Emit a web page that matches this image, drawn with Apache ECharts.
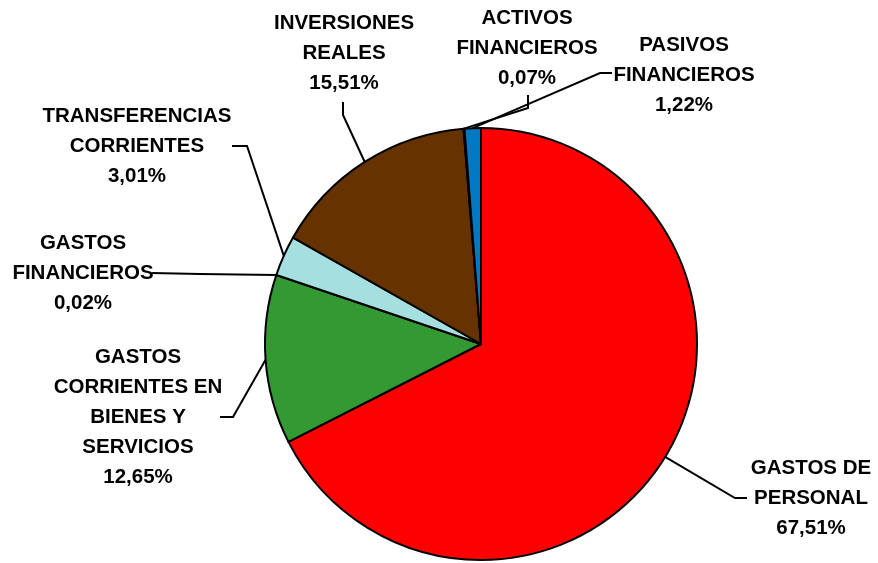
<!DOCTYPE html>
<html lang="es">
<head>
    <meta charset="UTF-8"/>
    <title>gastos</title>
    <script src="https://cdn.jsdelivr.net/npm/echarts@6/dist/echarts.min.js"></script>
</head>
<body style="margin:0;background:#fff">
<div id="main" style="width:878px;height:563px"></div>

<script type="text/javascript">
    // datos (porcentajes)
    var categorias = [
        'GASTOS DE\nPERSONAL',
        'GASTOS\nCORRIENTES EN\nBIENES Y\nSERVICIOS',
        'GASTOS\nFINANCIEROS',
        'TRANSFERENCIAS\nCORRIENTES',
        'INVERSIONES\nREALES',
        'ACTIVOS\nFINANCIEROS',
        'PASIVOS\nFINANCIEROS'
    ];
    var valores = [67.51, 12.65, 0.02, 3.01, 15.51, 0.07, 1.22];
    var colores = ['#FF0000', '#339933', '#FFFF99', '#A5DFE0', '#663300', '#FF8F8F', '#0078C4'];

    // posicion de cada etiqueta y quiebre de su linea
    var etiquetas = [
        {x: 811, y: 498, mid: [735, 498], end: [747, 498]},
        {x: 138, y: 417, mid: [233, 417], end: [220, 417]},
        {x: 83, y: 273, mid: [200, 274], end: [152, 273]},
        {x: 137, y: 146, mid: [247, 146], end: [232, 146]},
        {x: 344, y: 53, mid: [343, 115], end: [343, 102]},
        {x: 527, y: 48, mid: [528, 108], end: [528, 95]},
        {x: 684, y: 75, mid: [600, 73], end: [612, 73]}
    ];

    var datos = [];
    for (var i = 0; i < categorias.length; i++) {
        datos.push({name: categorias[i], value: valores[i], itemStyle: {color: colores[i]}});
    }

    var myChart = echarts.init(document.getElementById('main'));
    var option = {
        animation: false,
        series: [
            {
                type: 'pie',
                center: [481, 344],
                radius: 216,
                startAngle: 90,
                clockwise: true,
                avoidLabelOverlap: false,
                data: datos,
                itemStyle: {borderColor: '#000', borderWidth: 2},
                label: {
                    show: true,
                    position: 'outside',
                    color: '#000',
                    fontFamily: 'Liberation Sans, Arial, sans-serif',
                    fontWeight: 'bold',
                    fontSize: 20.5,
                    lineHeight: 30,
                    align: 'center',
                    formatter: function (p) {
                        return p.name + '\n' + p.value.toFixed(2).replace('.', ',') + '%';
                    }
                },
                labelLine: {
                    show: true,
                    smooth: false,
                    lineStyle: {color: '#000', width: 2}
                },
                labelLayout: function (params) {
                    var e = etiquetas[params.dataIndex];
                    var start = params.labelLinePoints ? params.labelLinePoints[0] : e.mid;
                    return {
                        x: e.x,
                        y: e.y,
                        align: 'center',
                        verticalAlign: 'middle',
                        labelLinePoints: [start, e.mid, e.end]
                    };
                },
                emphasis: {disabled: true}
            }
        ]
    };
    myChart.setOption(option);
</script>
</body>
</html>
